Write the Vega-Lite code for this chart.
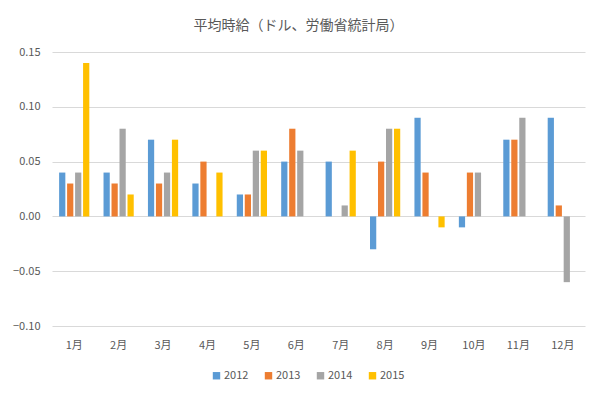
{
  "$schema": "https://vega.github.io/schema/vega-lite/v6.json",
  "width": 533,
  "height": 274,
  "autosize": {"type": "none"},
  "padding": {"left": 52, "top": 52, "right": 21, "bottom": 71},
  "background": "#ffffff",
  "title": {
    "text": "平均時給（ドル、労働省統計局）",
    "font": "Noto Sans CJK JP",
    "fontSize": 14,
    "fontWeight": "normal",
    "color": "#595959",
    "offset": 13,
    "dx": -20,
    "anchor": "middle"
  },
  "data": {
    "values": [
      {"month": "1月", "year": "2012", "value": 0.04},
      {"month": "1月", "year": "2013", "value": 0.03},
      {"month": "1月", "year": "2014", "value": 0.04},
      {"month": "1月", "year": "2015", "value": 0.14},
      {"month": "2月", "year": "2012", "value": 0.04},
      {"month": "2月", "year": "2013", "value": 0.03},
      {"month": "2月", "year": "2014", "value": 0.08},
      {"month": "2月", "year": "2015", "value": 0.02},
      {"month": "3月", "year": "2012", "value": 0.07},
      {"month": "3月", "year": "2013", "value": 0.03},
      {"month": "3月", "year": "2014", "value": 0.04},
      {"month": "3月", "year": "2015", "value": 0.07},
      {"month": "4月", "year": "2012", "value": 0.03},
      {"month": "4月", "year": "2013", "value": 0.05},
      {"month": "4月", "year": "2014", "value": 0},
      {"month": "4月", "year": "2015", "value": 0.04},
      {"month": "5月", "year": "2012", "value": 0.02},
      {"month": "5月", "year": "2013", "value": 0.02},
      {"month": "5月", "year": "2014", "value": 0.06},
      {"month": "5月", "year": "2015", "value": 0.06},
      {"month": "6月", "year": "2012", "value": 0.05},
      {"month": "6月", "year": "2013", "value": 0.08},
      {"month": "6月", "year": "2014", "value": 0.06},
      {"month": "6月", "year": "2015", "value": 0},
      {"month": "7月", "year": "2012", "value": 0.05},
      {"month": "7月", "year": "2013", "value": 0},
      {"month": "7月", "year": "2014", "value": 0.01},
      {"month": "7月", "year": "2015", "value": 0.06},
      {"month": "8月", "year": "2012", "value": -0.03},
      {"month": "8月", "year": "2013", "value": 0.05},
      {"month": "8月", "year": "2014", "value": 0.08},
      {"month": "8月", "year": "2015", "value": 0.08},
      {"month": "9月", "year": "2012", "value": 0.09},
      {"month": "9月", "year": "2013", "value": 0.04},
      {"month": "9月", "year": "2014", "value": 0},
      {"month": "9月", "year": "2015", "value": -0.01},
      {"month": "10月", "year": "2012", "value": -0.01},
      {"month": "10月", "year": "2013", "value": 0.04},
      {"month": "10月", "year": "2014", "value": 0.04},
      {"month": "10月", "year": "2015", "value": null},
      {"month": "11月", "year": "2012", "value": 0.07},
      {"month": "11月", "year": "2013", "value": 0.07},
      {"month": "11月", "year": "2014", "value": 0.09},
      {"month": "11月", "year": "2015", "value": null},
      {"month": "12月", "year": "2012", "value": 0.09},
      {"month": "12月", "year": "2013", "value": 0.01},
      {"month": "12月", "year": "2014", "value": -0.06},
      {"month": "12月", "year": "2015", "value": null}
    ]
  },
  "mark": {"type": "bar"},
  "encoding": {
    "x": {
      "field": "month",
      "type": "nominal",
      "sort": null,
      "scale": {"paddingInner": 0.32, "paddingOuter": 0.16},
      "axis": {
        "title": null,
        "labelAngle": 0,
        "domain": false,
        "ticks": false,
        "labelPadding": 13,
        "labelFont": "Noto Sans CJK JP",
        "labelFontSize": 11,
        "labelColor": "#595959"
      }
    },
    "xOffset": {
      "field": "year",
      "type": "nominal",
      "scale": {"paddingInner": 0.22, "paddingOuter": 0}
    },
    "y": {
      "field": "value",
      "type": "quantitative",
      "scale": {"domain": [-0.1, 0.15], "nice": false},
      "axis": {
        "title": null,
        "values": [-0.1, -0.05, 0, 0.05, 0.1, 0.15],
        "format": ".2f",
        "domain": false,
        "ticks": false,
        "labelPadding": 12,
        "gridColor": "#D9D9D9",
        "gridWidth": 1,
        "labelFont": "Noto Sans CJK JP",
        "labelFontSize": 11,
        "labelColor": "#595959"
      }
    },
    "color": {
      "field": "year",
      "type": "nominal",
      "scale": {"domain": ["2012", "2013", "2014", "2015"], "range": ["#5B9BD5", "#ED7D31", "#A5A5A5", "#FFC000"]},
      "legend": {
        "title": null,
        "orient": "none",
        "direction": "horizontal",
        "legendX": 159,
        "legendY": 318,
        "symbolType": "square",
        "symbolSize": 55,
        "symbolStrokeWidth": 0,
        "labelFont": "Noto Sans CJK JP",
        "labelFontSize": 11,
        "labelColor": "#595959",
        "labelOffset": 2,
        "columnPadding": 14
      }
    }
  },
  "config": {
    "view": {"stroke": null}
  }
}
